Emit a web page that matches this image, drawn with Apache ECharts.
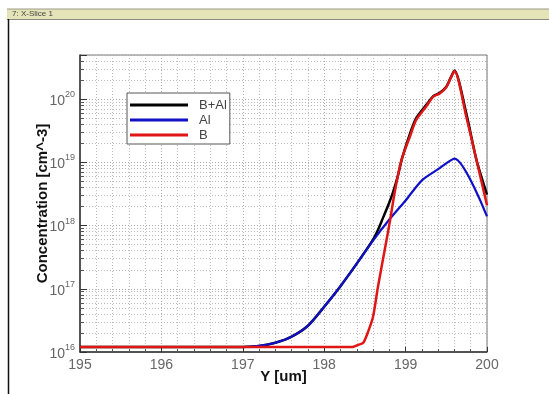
<!DOCTYPE html>
<html>
<head>
<meta charset="utf-8">
<script src="https://cdn.jsdelivr.net/npm/echarts@6/dist/echarts.min.js"></script>
<style>
html,body{margin:0;padding:0;background:#fff;}
#main{width:549px;height:394px;}
</style>
</head>
<body>
<div id="main"></div>
<script>
// ---- data ----
var seriesNames = ['B+Al', 'Al', 'B'];
var xTicks = [195, 196, 197, 198, 199, 200];

var xTotal = [195, 197.0, 197.2, 197.4, 197.6, 197.8, 198.0, 198.2, 198.4, 198.6, 198.66, 198.72, 198.78, 198.84, 198.9, 198.96, 199.05, 199.13, 199.26, 199.34, 199.42, 199.5, 199.55, 199.6, 199.75, 199.87, 200];
var yTotal = [1.2e16, 1.2e16, 1.25e16, 1.4e16, 1.75e16, 2.6e16, 5.2e16, 1.1e17, 2.5e17, 6e17, 8.5e17, 1.3e18, 2e18, 3.2e18, 5.8e18, 1.2e19, 2.75e19, 5e19, 8.3e19, 1.12e20, 1.26e20, 1.58e20, 2.14e20, 2.85e20, 5.6e19, 1.1e19, 3.1e18];

var xAl = [195, 197.0, 197.2, 197.4, 197.6, 197.8, 198.0, 198.2, 198.4, 198.6, 198.8, 199.0, 199.2, 199.4, 199.6, 200];
var yAl = [1.2e16, 1.2e16, 1.25e16, 1.4e16, 1.75e16, 2.6e16, 5.2e16, 1.1e17, 2.5e17, 5.8e17, 1.25e18, 2.5e18, 5.2e18, 7.8e18, 1.15e19, 1.4e18];

var xB = [195, 198.35, 198.42, 198.48, 198.54, 198.6, 198.66, 198.75, 198.81, 198.87, 198.95, 199.05, 199.13, 199.26, 199.34, 199.42, 199.5, 199.55, 199.6, 199.75, 199.87, 200];
var yB = [1.2e16, 1.2e16, 1.3e16, 1.4e16, 2.1e16, 3.6e16, 1.07e17, 4.6e17, 1.23e18, 3.6e18, 1.1e19, 2.5e19, 4.7e19, 7.9e19, 1.1e20, 1.23e20, 1.55e20, 2.1e20, 2.8e20, 5.0e19, 1.1e19, 2.1e18];

function pairs(xs, ys) {
  var out = [];
  for (var i = 0; i < xs.length; i++) out.push([xs[i], ys[i]]);
  return out;
}

var chart = echarts.init(document.getElementById('main'), null, {renderer: 'canvas'});
var fontFam = '"Liberation Sans", Arial, Helvetica, sans-serif';

var option = {
  animation: false,
  backgroundColor: '#ffffff',
  graphic: [
    {type: 'rect', shape: {x: 7, y: 9, width: 542, height: 10}, style: {fill: '#e4e4b8', stroke: null}, z: 10},
    {type: 'line', shape: {x1: 7, y1: 9, x2: 549, y2: 9}, style: {stroke: '#9a9a88', lineWidth: 1}, z: 11},
    {type: 'line', shape: {x1: 7, y1: 19.5, x2: 549, y2: 19.5}, style: {stroke: '#8a8a80', lineWidth: 1}, z: 11},
    {type: 'line', shape: {x1: 8.5, y1: 19, x2: 8.5, y2: 394}, style: {stroke: '#111', lineWidth: 1.5}, z: 11},
    {type: 'text', left: 12, top: 10, style: {text: '7: X-Slice 1', fontSize: 8, fill: '#444', fontFamily: fontFam}, z: 12}
  ],
  grid: {
    left: 80, right: 62, top: 55, bottom: 42,
    show: true, borderColor: '#777', borderWidth: 1, backgroundColor: 'transparent'
  },
  legend: {
    data: seriesNames,
    orient: 'vertical',
    left: 127, top: 93,
    backgroundColor: '#fff',
    borderColor: '#555', borderWidth: 1,
    padding: [5, 3, 2, 3],
    itemWidth: 58, itemHeight: 3, itemGap: 1,
    icon: 'rect',
    textStyle: {fontSize: 13, color: '#444', fontFamily: fontFam, lineHeight: 14, padding: [0, 0, 0, 6]}
  },
  xAxis: {
    type: 'value', min: 195, max: 200, interval: 1,
    name: 'Y [um]', nameLocation: 'middle', nameGap: 17, nameMoveOverlap: false,
    nameTextStyle: {fontSize: 15, fontWeight: 'bold', color: '#111', fontFamily: fontFam},
    axisLine: {show: true, lineStyle: {color: '#333', width: 1.5}},
    axisTick: {show: true, inside: true, length: 5, lineStyle: {color: '#333'}},
    minorTick: {show: true, splitNumber: 5, length: 3, lineStyle: {color: '#555'}},
    axisLabel: {fontSize: 14, color: '#666', margin: 6, fontFamily: fontFam,
      formatter: function (v) { return xTicks.indexOf(v) >= 0 ? String(v) : ''; }},
    splitLine: {show: true, lineStyle: {color: '#aaa', type: [1, 2], width: 1}},
    minorSplitLine: {show: true, lineStyle: {color: '#bbb', type: [1, 2], width: 1}}
  },
  yAxis: {
    type: 'log', logBase: 10, min: 1e16, max: 5e20,
    name: 'Concentration [cm^-3]', nameLocation: 'middle', nameGap: 30, nameMoveOverlap: false,
    nameTextStyle: {fontSize: 15, fontWeight: 'bold', color: '#111', fontFamily: fontFam},
    axisLine: {show: true, lineStyle: {color: '#333', width: 1.5}},
    axisTick: {show: true, inside: true, length: 7, lineStyle: {color: '#333'}},
    minorTick: {show: true, splitNumber: 9, length: 4, lineStyle: {color: '#555'}},
    axisLabel: {
      margin: 5, color: '#666', fontFamily: fontFam,
      formatter: function (v) {
        var n = Math.round(Math.log10(v));
        if (Math.abs(Math.log10(v) - n) > 1e-6) return '';
        return '{b|10}{s|' + n + '}';
      },
      rich: {
        b: {fontSize: 14, color: '#666', fontFamily: fontFam, verticalAlign: 'bottom', lineHeight: 18},
        s: {fontSize: 9, color: '#666', fontFamily: fontFam, verticalAlign: 'top', lineHeight: 12}
      }
    },
    splitLine: {show: true, lineStyle: {color: '#aaa', type: [1, 2], width: 1}},
    minorSplitLine: {show: true, lineStyle: {color: '#bbb', type: [1, 2], width: 1}}
  },
  series: [
    {name: seriesNames[0], type: 'line', data: pairs(xTotal, yTotal), showSymbol: false, smooth: 0.25,
      lineStyle: {color: '#000', width: 2.5}, itemStyle: {color: '#000'}, z: 3},
    {name: seriesNames[1], type: 'line', data: pairs(xAl, yAl), showSymbol: false, smooth: 0.25,
      lineStyle: {color: '#1010c8', width: 2.2}, itemStyle: {color: '#1010c8'}, z: 4},
    {name: seriesNames[2], type: 'line', data: pairs(xB, yB), showSymbol: false, smooth: 0.25,
      lineStyle: {color: '#e01515', width: 2.5}, itemStyle: {color: '#e01515'}, z: 5}
  ]
};
chart.setOption(option);
</script>
</body>
</html>
